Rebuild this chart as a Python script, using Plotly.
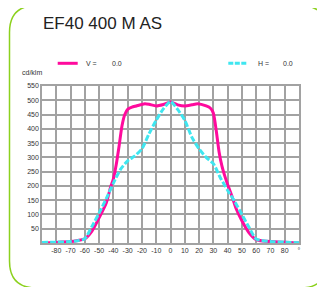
import plotly.graph_objects as go

# ---- data ----
v_angles = [-90, -80, -70, -65, -60, -55, -50, -45, -42, -40, -38, -36, -34, -32, -30, -27, -24, -18, -15, -10, -5, 0,
            5, 10, 15, 19, 25, 28, 30, 32, 34, 36, 38, 40, 43, 46, 50, 55, 60, 65, 70, 80, 90]
v_values = [0, 2, 5, 9, 15, 42, 88, 140, 195, 225, 275, 340, 410, 450, 468, 476, 480, 488, 486, 480, 485, 494,
            484, 480, 484, 488, 480, 472, 455, 395, 320, 270, 235, 205, 165, 120, 78, 36, 12, 7, 5, 3, 0]

h_angles = [-90, -80, -70, -65, -60, -55, -50, -45, -40, -35, -30, -25, -20, -15, -10, -5, 0,
            5, 10, 15, 20, 25, 30, 35, 40, 45, 50, 55, 60, 70, 80, 90]
h_values = [2, 3, 5, 8, 15, 58, 105, 155, 210, 258, 288, 305, 330, 383, 430, 470, 496,
            468, 430, 370, 330, 300, 278, 228, 185, 145, 100, 55, 14, 5, 3, 1]

x_tickvals = [-80, -70, -60, -50, -40, -30, -20, -10, 0, 10, 20, 30, 40, 50, 60, 70, 80, 90]
x_ticktext = ["-80", "-70", "-60", "-50", "-40", "-30", "-20", "-10", "0", "10", "20", "30", "40", "50",
              "60", "70", "80", "°"]
y_tickvals = [50, 100, 150, 200, 250, 300, 350, 400, 450, 500, 550]

title_text = "EF40 400 M AS"
unit_text = "cd/klm"
v_label, h_label = "V =", "H ="
v_val, h_val = "0.0", "0.0"

MAGENTA = "#ff0a9d"
CYAN = "#3fe6f0"
GREEN = "#8cd11e"
GRID = "#a2a2a2"
TEXT = "#333333"

# page body has an 8px margin; figure sized so that it fits the 325x287 window
OFF = 8
W, H = 325 - OFF, 287 - OFF
ML, MR, MT, MB = 34, 26, 78, 44
PW, PH = W - ML - MR, H - MT - MB


def px(x):
    # window pixel -> paper
    return (x - OFF - ML) / PW


def py(y):
    return (H - MB - (y - OFF)) / PH


fig = go.Figure()
fig.add_trace(go.Scatter(x=v_angles, y=v_values, mode="lines",
                         line=dict(color=MAGENTA, width=3, shape="spline", smoothing=0.6),
                         showlegend=False, hoverinfo="skip"))
fig.add_trace(go.Scatter(x=h_angles, y=h_values, mode="lines",
                         line=dict(color=CYAN, width=3, shape="spline", smoothing=0.6, dash="6px,2px"),
                         showlegend=False, hoverinfo="skip"))

# rounded green frame
L, R, T, B = px(9.5), px(327), py(5.5), py(288)
rx, ry = 27 / PW, 27 / PH
path = (f"M {L},{T - ry} L {L},{B + ry} Q {L},{B} {L + rx},{B} "
        f"L {R - rx},{B} Q {R},{B} {R},{B + ry} L {R},{T - ry} Q {R},{T} {R - rx},{T} "
        f"L {L + rx},{T} Q {L},{T} {L},{T - ry} Z")
shapes = [dict(type="path", xref="paper", yref="paper", path=path,
               line=dict(color=GREEN, width=1.5), layer="below")]
# legend swatches
ly = py(63.3)
shapes.append(dict(type="line", xref="paper", yref="paper", x0=px(57.7), x1=px(77.7), y0=ly, y1=ly,
                   line=dict(color=MAGENTA, width=3)))
shapes.append(dict(type="line", xref="paper", yref="paper", x0=px(228.3), x1=px(246.7), y0=ly, y1=ly,
                   line=dict(color=CYAN, width=3, dash="5px,1.5px")))

ann = [
    dict(text=title_text, x=px(41), y=py(23), xref="paper", yref="paper", xanchor="left", yanchor="middle",
         showarrow=False, font=dict(size=17, color="#222222")),
    dict(text=unit_text, x=px(19.5), y=py(72.5), xref="paper", yref="paper", xanchor="left", yanchor="middle",
         showarrow=False, font=dict(size=7, color=TEXT)),
    dict(text=v_label, x=px(83.5), y=ly, xref="paper", yref="paper", xanchor="left", yanchor="middle",
         showarrow=False, font=dict(size=7, color=TEXT)),
    dict(text=v_val, x=px(109.5), y=ly, xref="paper", yref="paper", xanchor="left", yanchor="middle",
         showarrow=False, font=dict(size=7, color=TEXT)),
    dict(text=h_label, x=px(255.7), y=ly, xref="paper", yref="paper", xanchor="left", yanchor="middle",
         showarrow=False, font=dict(size=7, color=TEXT)),
    dict(text=h_val, x=px(281), y=ly, xref="paper", yref="paper", xanchor="left", yanchor="middle",
         showarrow=False, font=dict(size=7, color=TEXT)),
]

fig.update_layout(
    width=W, height=H, margin=dict(l=ML, r=MR, t=MT, b=MB),
    paper_bgcolor="white", plot_bgcolor="white",
    font=dict(family="Liberation Sans, Arial, sans-serif", color=TEXT, size=7),
    shapes=shapes, annotations=ann, showlegend=False,
    xaxis=dict(range=[-90, 90], tickvals=x_tickvals, ticktext=x_ticktext, showgrid=True,
               gridcolor=GRID, gridwidth=1.5, zeroline=False, showline=True, linecolor=GRID,
               linewidth=1.5, mirror=True, ticks="", tickfont=dict(size=7, color=TEXT), fixedrange=True),
    yaxis=dict(range=[0, 550], tickvals=y_tickvals, showgrid=True, gridcolor=GRID, gridwidth=1.5,
               zeroline=False, showline=True, linecolor=GRID, linewidth=1.5, mirror=True, ticks="",
               tickfont=dict(size=7, color=TEXT), fixedrange=True),
)

fig.write_html("out.html")
